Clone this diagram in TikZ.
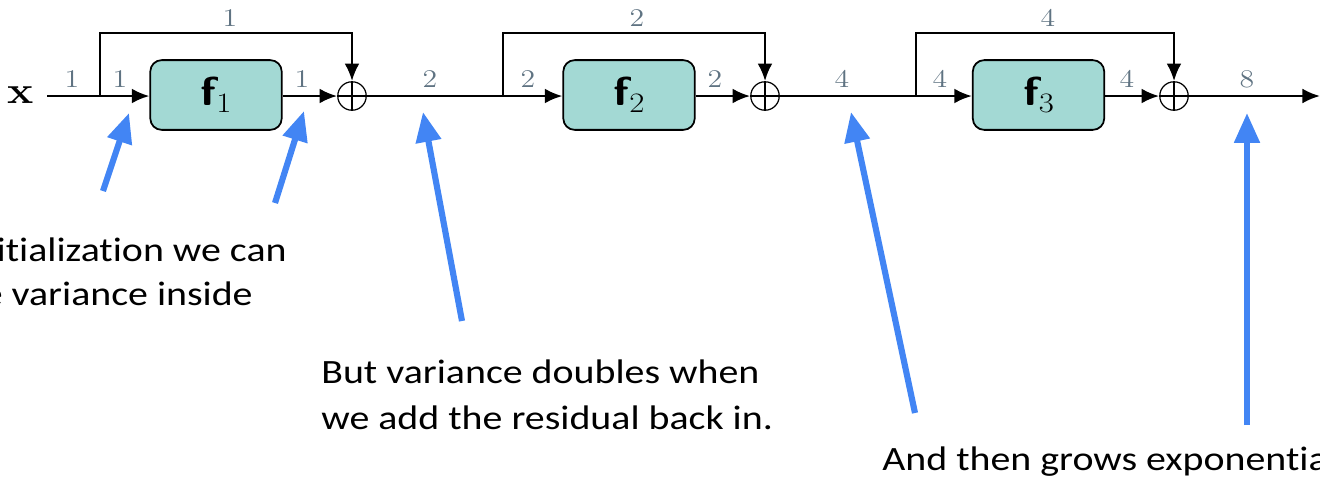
\documentclass[tikz,border=0pt]{standalone}
\usepackage{graphicx}
\usepackage{fontspec}
\newfontfamily\calibri{Carlito}[Ligatures=NoCommon]
\usetikzlibrary{arrows.meta}
\definecolor{boxfill}{RGB}{163,217,212}
\definecolor{lab}{RGB}{95,115,130}
\definecolor{callout}{RGB}{66,133,244}
\newcommand{\hs}[1]{\scalebox{1.17}[1]{#1}}
\newcommand{\fblk}[1]{\hs{{\fontsize{23}{23}\selectfont\sffamily\bfseries f}\raisebox{-4pt}{\fontsize{16}{16}\selectfont #1}}}
\begin{document}
\begin{tikzpicture}[x=0.02cm,y=-0.02cm,
  wire/.style={line width=1.5pt, black},
  arr/.style={wire,-{Latex[length=10pt,width=8.5pt]}},
  fblock/.style={draw, line width=1pt, fill=boxfill, rounded corners=6.5pt,
    minimum width=74.8pt, minimum height=39.7pt, inner sep=0pt},
  sumnode/.style={circle, draw, line width=0.7pt, minimum size=16.2pt, inner sep=0pt},
  vlab/.style={text=lab, font=\fontsize{14.5}{14.5}\selectfont, inner sep=0pt},
  callarrow/.style={line width=3.5pt, draw=callout, -{Triangle[length=17pt,width=14pt,fill=callout]}},
  note/.style={font=\calibri\fontsize{19.4}{25}\selectfont, inner sep=0pt}
]
\useasboundingbox (0,0) rectangle (1320,477);

% input
\node[font=\fontsize{21.5}{21.5}\selectfont\bfseries, inner sep=0pt, anchor=base] (x) at (21,103) {\hs{x}};
\coordinate (in) at (47,96);

% block 1
\coordinate (sp1) at (100,96);
\node[fblock] (f1) at (216,95) {\fblk{1}};
\node[sumnode] (s1) at (352,96) {};
% block 2
\coordinate (sp2) at (503,96);
\node[fblock] (f2) at (629,95) {\fblk{2}};
\node[sumnode] (s2) at (765,96) {};
% block 3
\coordinate (sp3) at (916,96);
\node[fblock] (f3) at (1038.5,95) {\fblk{3}};
\node[sumnode] (s3) at (1174,96) {};
\coordinate (out) at (1320,96);

\foreach \s in {s1,s2,s3}{
  \draw[line width=0.7pt] (\s.north) -- (\s.south) (\s.west) -- (\s.east);
}

% wires
\draw[wire] (in) -- (sp1);
\draw[arr] (sp1) -- (f1.west |- sp1);
\draw[arr] (f1.east |- sp1) -- (s1.west);
\draw[arr] (sp1) -- (100,33) -| (s1.north);
\draw[wire] (s1.east) -- (sp2);
\draw[arr] (sp2) -- (f2.west |- sp2);
\draw[arr] (f2.east |- sp2) -- (s2.west);
\draw[arr] (sp2) -- (503,33) -| (s2.north);
\draw[wire] (s2.east) -- (sp3);
\draw[arr] (sp3) -- (f3.west |- sp3);
\draw[arr] (f3.east |- sp3) -- (s3.west);
\draw[arr] (sp3) -- (916,33) -| (s3.north);
\draw[arr] (s3.east) -- (out);

% variance labels
\node[vlab] (l1) at (72,79) {\hs{1}};
\node[vlab] (l2) at (120,79) {\hs{1}};
\node[vlab] (l3) at (302,79) {\hs{1}};
\node[vlab] (l4) at (230,18) {\hs{1}};
\node[vlab] (l5) at (430,79) {\hs{2}};
\node[vlab] (l6) at (528,79) {\hs{2}};
\node[vlab] (l7) at (715,79) {\hs{2}};
\node[vlab] (l8) at (637,18) {\hs{2}};
\node[vlab] (l9) at (842,79) {\hs{4}};
\node[vlab] (l10) at (940,79) {\hs{4}};
\node[vlab] (l11) at (1127,79) {\hs{4}};
\node[vlab] (l12) at (1048,18) {\hs{4}};
\node[vlab] (l13) at (1247,79) {\hs{8}};

% callout arrows
\coordinate (t1) at (103,191); \coordinate (h1) at (129,113);
\coordinate (t2) at (275,203); \coordinate (h2) at (304,111);
\coordinate (t3) at (462,321); \coordinate (h3) at (423,112);
\coordinate (t4) at (915,413); \coordinate (h4) at (851,112);
\coordinate (t5) at (1247,425); \coordinate (h5) at (1247,113);
\draw[callarrow] (t1) -- (h1);
\draw[callarrow] (t2) -- (h2);
\draw[callarrow] (t3) -- (h3);
\draw[callarrow] (t4) -- (h4);
\draw[callarrow] (t5) -- (h5);

% notes
\node[note, anchor=base east] (n1a) at (287,261) {\hs{itialization we can}};
\node[note, anchor=base east] (n1b) at (253,305) {\hs{e variance inside}};
\node[note, anchor=base west] (n2a) at (321,383) {\hs{But variance doubles when}};
\node[note, anchor=base west] (n2b) at (321,429) {\hs{we add the residual back in.}};
\node[note, anchor=base west] (n3) at (882,470) {\hs{And then grows exponentia}};
\end{tikzpicture}
\end{document}
